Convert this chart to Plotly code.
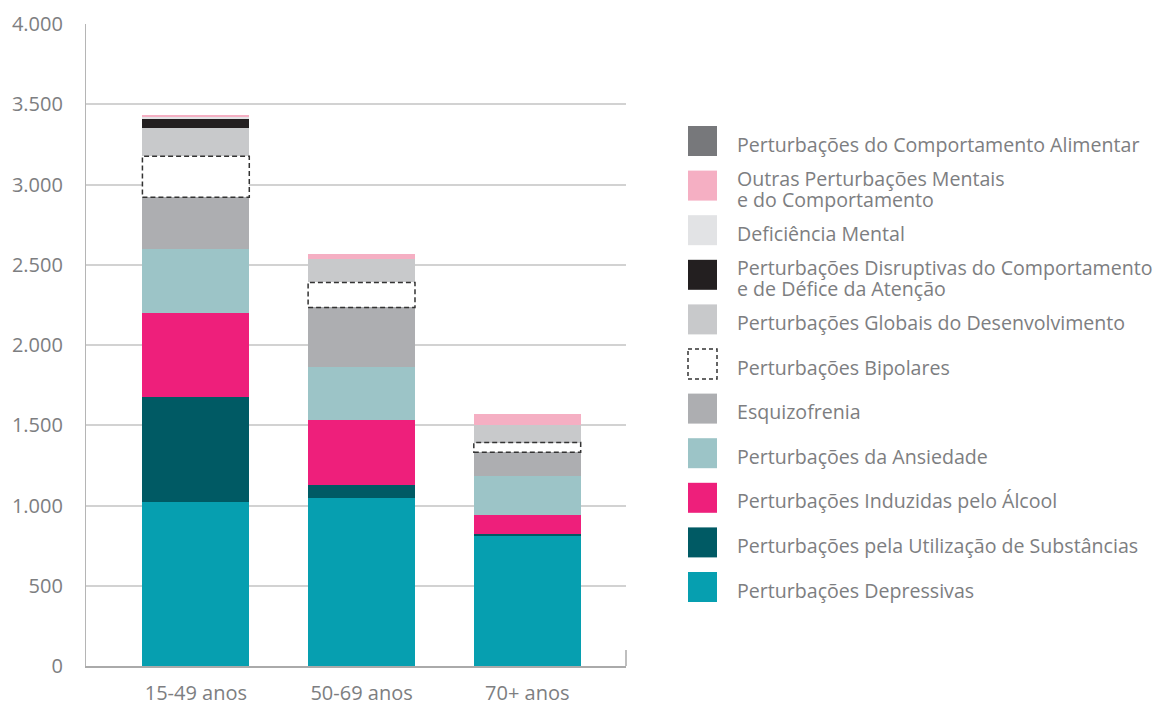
import plotly.graph_objects as go

categories = ["15-49 anos", "50-69 anos", "70+ anos"]

# stacked from the bottom up
depressivas = [1022, 1049, 814]
substancias = [655, 79, 11]
alcool = [524, 406, 116]
ansiedade = [400, 326, 244]
esquizofrenia = [320, 374, 147]
bipolares = [255, 156, 60]
globais = [173, 147, 110]
disruptivas = [62, 0, 0]
deficiencia = [12, 0, 0]
outras = [13, 32, 69]
alimentar = [0, 0, 0]

series = [
    ("Perturbações Depressivas", depressivas, "#069fb0"),
    ("Perturbações pela Utilização de Substâncias", substancias, "#005a64"),
    ("Perturbações Induzidas pelo Álcool", alcool, "#ee1f7b"),
    ("Perturbações da Ansiedade", ansiedade, "#9cc4c7"),
    ("Esquizofrenia", esquizofrenia, "#adaeb1"),
    ("Perturbações Bipolares", bipolares, "#ffffff"),
    ("Perturbações Globais do Desenvolvimento", globais, "#c8c9cb"),
    ("Perturbações Disruptivas do Comportamento<br>e de Défice da Atenção", disruptivas, "#231f20"),
    ("Deficiência Mental", deficiencia, "#e2e3e5"),
    ("Outras Perturbações Mentais<br>e do Comportamento", outras, "#f5afc3"),
    ("Perturbações do Comportamento Alimentar", alimentar, "#77787b"),
]

W, H = 1166, 704
OFF = 8  # page body margin shifts the figure by this much
L, R, T, B = 86 - OFF, 540 + OFF, 24 - OFF, 38 + OFF
BAR_W = 0.645
TEXT = "#7d7e81"
FONT = "Open Sans"


def px_x(px):
    # screen pixel -> paper coordinate
    return (px - OFF - L) / (W - L - R)


def px_y(py):
    return 1 - (py - OFF - T) / (H - T - B)


fig = go.Figure()
xs = list(range(len(categories)))
for name, vals, color in series:
    fig.add_trace(go.Bar(
        x=xs, y=vals, name=name, width=BAR_W,
        marker=dict(color=color, line=dict(width=0)),
        showlegend=False,
    ))

# dashed outline for the bipolar segment, from the stacked values
base = [sum(v) for v in zip(depressivas, substancias, alcool, ansiedade, esquizofrenia)]
for i, (b0, h) in enumerate(zip(base, bipolares)):
    fig.add_shape(type="rect", xref="x", yref="y",
                  x0=i - BAR_W / 2, x1=i + BAR_W / 2, y0=b0, y1=b0 + h,
                  line=dict(color="#333333", width=1.5, dash="5px,3px"),
                  layer="above")

# hand-made legend, top item first
row0, step = 141, 44.6
for k, (name, vals, color) in enumerate(reversed(series)):
    cy = row0 + k * step
    dashed = name == "Perturbações Bipolares"
    fig.add_shape(type="rect", xref="paper", yref="paper",
                  x0=px_x(688), x1=px_x(717), y0=px_y(cy - 15), y1=px_y(cy + 15),
                  fillcolor=color,
                  line=dict(color="#333333", width=1.5, dash="4px,3px") if dashed else dict(width=0))
    lines = name.split("<br>")
    off = 3 - 10.5 * (len(lines) - 1)
    for j, line in enumerate(lines):
        fig.add_annotation(xref="paper", yref="paper", x=px_x(735), y=px_y(cy + off + j * 21),
                           xanchor="left", yanchor="middle", align="left",
                           text=line, showarrow=False,
                           font=dict(family=FONT, size=19.6, color=TEXT))

# small closing tick at the right end of the x axis
fig.add_shape(type="line", xref="paper", yref="paper",
              x0=1, x1=1, y0=0, y1=px_y(650),
              line=dict(color="#aaaaaa", width=1.5))

fig.update_layout(
    barmode="stack",
    width=W, height=H,
    margin=dict(l=L, r=R, t=T, b=B),
    plot_bgcolor="white", paper_bgcolor="white",
    separators=",.",
    font=dict(family=FONT, size=20, color=TEXT),
    xaxis=dict(
        range=[-0.663, 2.596], automargin=False,
        tickvals=xs, ticktext=categories,
        showgrid=False, zeroline=False,
        showline=True, linecolor="#aaaaaa", linewidth=1.5,
        ticks="", ticklabelstandoff=8,
        tickfont=dict(size=20, color=TEXT),
    ),
    yaxis=dict(
        range=[0, 4000], dtick=500, tickformat=",d", automargin=False,
        showgrid=True, gridcolor="#d2d2d2", gridwidth=1.5,
        zeroline=False,
        showline=True, linecolor="#b5b5b5", linewidth=1.2,
        ticks="", ticklabelstandoff=18,
        tickfont=dict(size=20, color=TEXT),
    ),
)

fig.write_html("out.html")
